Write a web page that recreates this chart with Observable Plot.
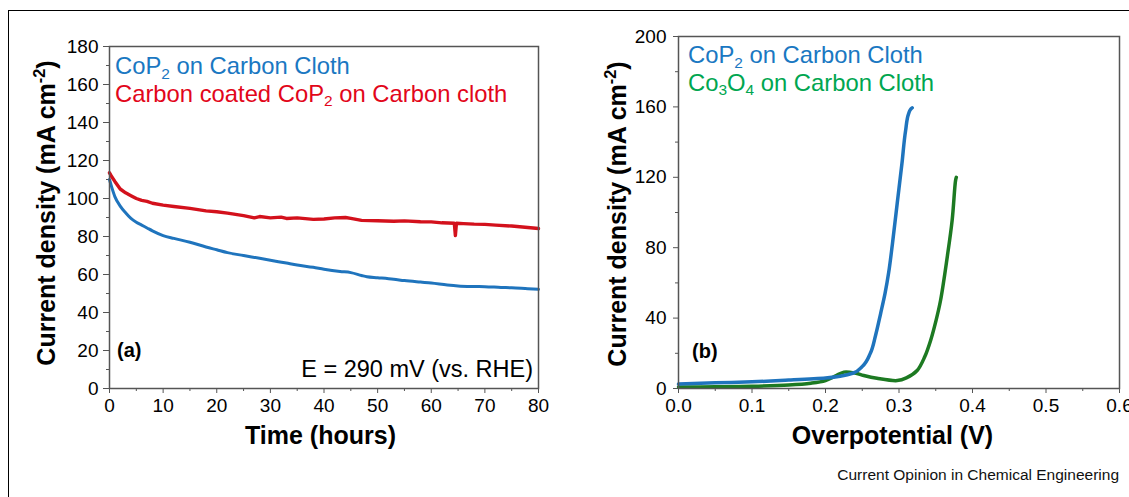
<!DOCTYPE html>
<html><head><meta charset="utf-8">
<script src="https://cdn.jsdelivr.net/npm/d3@7"></script>
<script src="https://cdn.jsdelivr.net/npm/@observablehq/plot@0.6"></script>
<style>
html,body{margin:0;padding:0;background:#fff;}
#page{position:relative;width:1129px;height:497px;overflow:hidden;font-family:"Liberation Sans",Arial,sans-serif;}
#frame{position:absolute;left:8px;top:10px;width:1200px;height:600px;border-left:1.5px solid #000;border-top:1.5px solid #000;}
#a{position:absolute;left:0;top:0;}
#b{position:absolute;left:560px;top:0;}
#caption{position:absolute;right:10px;top:467px;font-size:15.5px;line-height:15px;color:#111;}
</style></head><body>
<div id="page"><div id="frame"></div><div id="a"></div><div id="b"></div><div id="caption">Current Opinion in Chemical Engineering</div></div>
<script>
// ---------- Panel (a) data ----------
const timeTicks = [0, 10, 20, 30, 40, 50, 60, 70, 80];
const timeMinor = [5, 15, 25, 35, 45, 55, 65, 75];
const densTicksA = [0, 20, 40, 60, 80, 100, 120, 140, 160, 180];
const densMinorA = [10, 30, 50, 70, 90, 110, 130, 150, 170];

const copTime = [0, 0.3, 1, 2, 3, 4, 5, 6, 7, 8, 10, 12, 15, 18, 20, 22, 25, 28, 30, 33, 35, 38, 40, 43, 45, 47, 48, 50, 53, 55, 58, 60, 63, 65, 68, 70, 73, 75, 78, 80];
const copDensity = [110, 107, 101, 96, 92.5, 89.5, 87.5, 86, 84.5, 83, 80.5, 79, 77, 74.5, 73, 71.5, 70, 68.5, 67.5, 66, 65, 63.8, 62.8, 61.6, 61, 59.5, 58.8, 58.3, 57.5, 56.8, 56, 55.5, 54.5, 54, 53.7, 53.6, 53.2, 53, 52.5, 52.2];

const coatedTime = [0, 0.3, 1, 2, 3, 4, 5, 6, 7, 8, 10, 12, 15, 18, 20, 22, 25, 27, 28, 30, 32, 33, 35, 37, 38, 40, 42, 44, 45, 47, 50, 53, 55, 58, 60, 62, 64.3, 64.5, 64.7, 66, 68, 70, 72, 75, 77, 80];
const coatedDensity = [113.5, 112, 109, 105, 103, 101.5, 100, 99, 98.5, 97.5, 96.5, 95.8, 94.8, 93.5, 93, 92.3, 91, 89.8, 90.5, 89.8, 90.2, 89.5, 89.8, 89.3, 89, 89.2, 89.8, 90, 89.5, 88.5, 88.3, 88, 88.2, 87.8, 87.7, 87.2, 87, 80.5, 87, 86.8, 86.5, 86.4, 86, 85.5, 85, 84.2];

// ---------- Panel (b) data ----------
const voltTicks = [0, 0.1, 0.2, 0.3, 0.4, 0.5, 0.6];
const voltMinor = [0.05, 0.15, 0.25, 0.35, 0.45, 0.55];
const densTicksB = [0, 40, 80, 120, 160, 200];
const densMinorB = [20, 60, 100, 140, 180];

const copVolt = [0, 0.05, 0.1, 0.15, 0.2, 0.22, 0.238, 0.25, 0.261, 0.268, 0.275, 0.281, 0.286, 0.291, 0.2975, 0.304, 0.309, 0.313, 0.3155, 0.318];
const copCurrent = [2.5, 3.2, 3.8, 4.8, 6, 7, 8.8, 12.5, 20, 30, 42.6, 54, 66, 82, 105, 127.8, 146.6, 156, 158.5, 159.5];

const oxideVolt = [0, 0.05, 0.1, 0.15, 0.18, 0.2, 0.213, 0.225, 0.24, 0.252, 0.27, 0.2975, 0.31, 0.3247, 0.335, 0.343, 0.35, 0.3565, 0.3656, 0.3723, 0.3769, 0.378];
const oxideCurrent = [0.8, 1, 1.3, 2, 3, 4.5, 7, 9.3, 8.8, 7.4, 5.8, 4.5, 6, 10.2, 18, 27.3, 38, 50, 74.6, 95.5, 118, 120];

const FONT = '"Liberation Sans", Arial, sans-serif';
const BLUE = "#1f74bd", RED = "#d3111c", GREEN_LINE = "#1d7a22";
const BLUE_TXT = "#1a78c2", RED_TXT = "#e2061a", GREEN_TXT = "#00a650";
const AXIS = "#555";

const zip = (xs, ys) => xs.map((x, i) => ({x, y: ys[i]}));

// ---------- Panel (a) ----------
const chartA = Plot.plot({
  width: 560, height: 460,
  marginLeft: 109, marginRight: 22, marginTop: 46, marginBottom: 72,
  style: {fontFamily: FONT, fontSize: "19px", color: "#000", background: "transparent", overflow: "visible"},
  x: {domain: [0, 80]},
  y: {domain: [0, 180]},
  marks: [
    Plot.axisX({ticks: timeTicks, tickSize: 5, tickPadding: 5, label: null, stroke: AXIS, fill: "#000"}),
    Plot.axisX({ticks: timeMinor, tickSize: 3, text: null, label: null, stroke: AXIS}),
    Plot.axisY({ticks: densTicksA, tickSize: 6, tickPadding: 5, label: null, stroke: AXIS, fill: "#000"}),
    Plot.axisY({ticks: densMinorA, tickSize: 3, text: null, label: null, stroke: AXIS}),
    Plot.line(zip(copTime, copDensity), {x: "x", y: "y", stroke: BLUE, strokeWidth: 3, curve: "monotone-x"}),
    Plot.line(zip(coatedTime, coatedDensity), {x: "x", y: "y", stroke: RED, strokeWidth: 3.4, curve: "linear"}),
    Plot.frame({stroke: AXIS, strokeWidth: 1.5})
  ]
});
document.getElementById("a").append(chartA);

// ---------- Panel (b) ----------
const chartB = Plot.plot({
  width: 569, height: 460,
  marginLeft: 118, marginRight: 10, marginTop: 36, marginBottom: 72,
  style: {fontFamily: FONT, fontSize: "19px", color: "#000", background: "transparent", overflow: "visible"},
  x: {domain: [0, 0.6]},
  y: {domain: [0, 200]},
  marks: [
    Plot.axisX({ticks: voltTicks, tickSize: 5, tickPadding: 5, tickFormat: d3.format(".1f"), label: null, stroke: AXIS, fill: "#000"}),
    Plot.axisX({ticks: voltMinor, tickSize: 3, text: null, label: null, stroke: AXIS}),
    Plot.axisY({ticks: densTicksB, tickSize: 5, tickPadding: 7, label: null, stroke: AXIS, fill: "#000"}),
    Plot.axisY({ticks: densMinorB, tickSize: 3, text: null, label: null, stroke: AXIS}),
    Plot.line(zip(oxideVolt, oxideCurrent), {x: "x", y: "y", stroke: GREEN_LINE, strokeWidth: 3.5, curve: "catmull-rom"}),
    Plot.line(zip(copVolt, copCurrent), {x: "x", y: "y", stroke: BLUE, strokeWidth: 3.5, curve: "monotone-y"}),
    Plot.frame({stroke: AXIS, strokeWidth: 1.5})
  ]
});
document.getElementById("b").append(chartB);

// ---------- text helpers ----------
function richText(svg, x, y, parts, opts) {
  const t = d3.select(svg).append("text")
    .attr("x", x).attr("y", y)
    .attr("font-family", FONT)
    .attr("font-size", opts.size)
    .attr("font-weight", opts.weight || "normal")
    .attr("fill", opts.fill || "#000")
    .attr("text-anchor", opts.anchor || "start");
  if (opts.transform) t.attr("transform", opts.transform);
  let shift = 0;
  parts.forEach(p => {
    const s = t.append("tspan").text(p.t);
    let target = 0, size = null;
    if (p.sub) { target = opts.size * 0.2; size = opts.size * 0.65; }
    if (p.sup) { target = -opts.size * 0.42; size = opts.size * 0.65; }
    if (size) s.attr("font-size", size);
    s.attr("dy", target - shift);
    shift = target;
  });
  return t;
}

function decorate(chart, cfg) {
  const sx = chart.scale("x").range, sy = chart.scale("y").range;
  const left = sx[0], right = sx[1], bottom = sy[0], top = sy[1];
  const cy = (top + bottom) / 2 + cfg.yLabelShift;
  richText(chart, 0, 0, [{t: "Current density (mA cm"}, {t: "-2", sup: true}, {t: ")"}],
    {size: 25, weight: "bold", anchor: "middle", transform: `translate(${cfg.yLabelX},${cy}) rotate(-90)`});
  richText(chart, (left + right) / 2 + cfg.xLabelShift, 444, [{t: cfg.xLabel}], {size: 25, weight: "bold", anchor: "middle"});
  cfg.legend.forEach((l, i) => richText(chart, left + cfg.legendDx, top + cfg.legendDy + i * 27.5, l.parts, {size: 23.8, fill: l.fill}));
  richText(chart, left + cfg.tagDx, cfg.tagY, [{t: cfg.tag}], {size: 20, weight: "bold"});
}

decorate(chartA, {
  yLabelX: 55, yLabelShift: -4, xLabel: "Time (hours)", xLabelShift: -3,
  legendDx: 6, legendDy: 28,
  legend: [
    {fill: BLUE_TXT, parts: [{t: "CoP"}, {t: "2", sub: true}, {t: " on Carbon Cloth"}]},
    {fill: RED_TXT, parts: [{t: "Carbon coated CoP"}, {t: "2", sub: true}, {t: " on Carbon cloth"}]}
  ],
  tag: "(a)", tagDx: 8, tagY: 357
});
richText(chartA, chartA.scale("x").range[1] - 5, 377, [{t: "E = 290 mV (vs. RHE)"}], {size: 23.5, anchor: "end"});

decorate(chartB, {
  yLabelX: 66, yLabelShift: 2, xLabel: "Overpotential (V)", xLabelShift: -6,
  legendDx: 10, legendDy: 27,
  legend: [
    {fill: BLUE_TXT, parts: [{t: "CoP"}, {t: "2", sub: true}, {t: " on Carbon Cloth"}]},
    {fill: GREEN_TXT, parts: [{t: "Co"}, {t: "3", sub: true}, {t: "O"}, {t: "4", sub: true}, {t: " on Carbon Cloth"}]}
  ],
  tag: "(b)", tagDx: 14, tagY: 358
});
</script>
</body></html>
